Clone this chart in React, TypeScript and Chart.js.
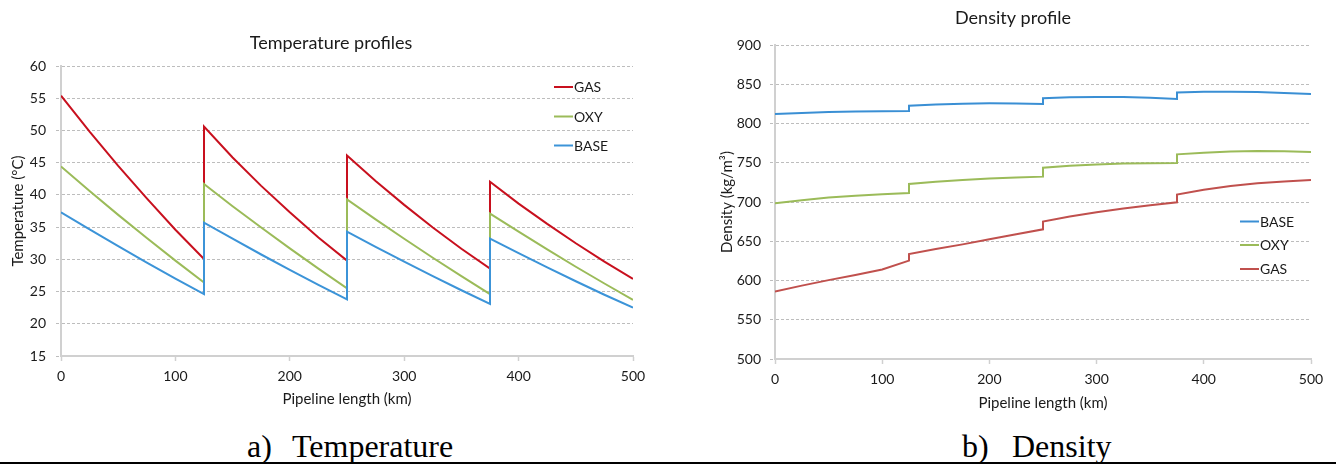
import React, { useEffect, useRef } from 'react';
import { Chart, registerables } from 'chart.js';

Chart.register(...registerables);

// ---------------- data ----------------
const KM = [
  0, 25, 50, 75, 100, 125,
  125, 150, 175, 200, 225, 250,
  250, 275, 300, 325, 350, 375,
  375, 400, 425, 450, 475, 500,
];

const TEMP_GAS = [
  55.4, 49.8, 44.5, 39.45, 34.6, 30.05,
  50.6, 45.8, 41.4, 37.3, 33.4, 29.8,
  46.1, 42.15, 38.45, 34.95, 31.65, 28.55,
  42.05, 38.65, 35.5, 32.5, 29.65, 26.95,
];
const TEMP_OXY = [
  44.4, 40.6, 36.9, 33.3, 29.8, 26.4,
  41.7, 38.25, 34.95, 31.7, 28.55, 25.5,
  39.3, 36.2, 33.2, 30.25, 27.4, 24.6,
  37.1, 34.3, 31.55, 28.85, 26.25, 23.7,
];
const TEMP_BASE = [
  37.3, 34.65, 32.05, 29.5, 27.0, 24.6,
  35.7, 33.2, 30.75, 28.35, 26.05, 23.8,
  34.3, 31.95, 29.65, 27.4, 25.2, 23.1,
  33.2, 30.95, 28.75, 26.6, 24.5, 22.5,
];

const DENS_BASE = [
  812, 813.5, 814.6, 815.3, 815.7, 816,
  822.7, 824.2, 825.2, 825.7, 825.5, 824.8,
  832.1, 833.3, 833.9, 833.8, 832.8, 831.3,
  839.6, 840.4, 840.6, 840.0, 839.0, 837.6,
];
const DENS_OXY = [
  698.3, 702.3, 705.7, 708.0, 710.0, 711.5,
  722.9, 725.8, 728.0, 729.8, 731.2, 732.3,
  743.7, 746.2, 747.9, 748.9, 749.4, 749.7,
  760.7, 762.8, 764.2, 764.9, 764.6, 763.7,
];
const DENS_GAS = [
  585.8, 593.5, 600.5, 607.0, 614.0, 625.3,
  633.8, 640.0, 646.0, 652.5, 659.0, 665.2,
  675.0, 681.5, 687.0, 691.8, 696.0, 699.6,
  709.5, 715.5, 720.3, 723.8, 726.2, 728.0,
];

const X_RANGE = [0, 500, 100];
const TEMP_RANGE = [15, 60, 5];
const DENS_RANGE = [500, 900, 50];

const TEMP_LEGEND = ['GAS', 'OXY', 'BASE'];
const DENS_LEGEND = ['BASE', 'OXY', 'GAS'];

// ---------------- styles ----------------
const FONT = 'Lato, "Open Sans", sans-serif';
const TEXT = '#1a1a1a';
const GRID = '#bdbdbd';
const AXIS = '#d0d0d0';

const COLORS_T: Record<string, string> = { GAS: '#c8101e', OXY: '#9bbb59', BASE: '#3c94d8' };
const COLORS_D: Record<string, string> = { GAS: '#c0504d', OXY: '#9bbb59', BASE: '#3a8fd4' };

const overlayPlugin = {
  id: 'overlay',
  afterDraw(chart: any, _args: any, opts: any) {
    const ctx = chart.ctx;
    ctx.save();
    ctx.fillStyle = TEXT;
    ctx.textAlign = 'center';
    ctx.textBaseline = 'middle';
    ctx.font = `${opts.titleSize}px ${FONT}`;
    ctx.fillText(opts.title, opts.titleX, opts.titleY);
    ctx.font = `${opts.legendSize}px ${FONT}`;
    ctx.textAlign = 'left';
    opts.legend.forEach((it: any) => {
      ctx.strokeStyle = it.color;
      ctx.lineWidth = 2;
      ctx.beginPath();
      ctx.moveTo(opts.legendX, it.y);
      ctx.lineTo(opts.legendX + 19, it.y);
      ctx.stroke();
      ctx.fillStyle = TEXT;
      ctx.fillText(it.label, opts.legendX + 20, it.y + 0.5);
    });
    ctx.restore();
  },
};

function buildConfig(p: any) {
  const datasets = p.series.map((s: any) => ({
    label: s.label,
    data: KM.map((x, i) => ({ x, y: s.values[i] })),
    borderColor: s.color,
    borderWidth: 2,
    pointRadius: 0,
    tension: 0,
    fill: false,
    order: s.order,
  }));
  return {
    type: 'line',
    data: { datasets },
    plugins: [overlayPlugin],
    options: {
      animation: false,
      responsive: false,
      events: [],
      layout: { padding: { left: 0, right: p.padRight, top: p.padTop, bottom: 0 } },
      plugins: {
        legend: { display: false },
        title: { display: false },
        tooltip: { enabled: false },
        overlay: p.overlay,
      },
      scales: {
        x: {
          type: 'linear',
          min: X_RANGE[0],
          max: X_RANGE[1],
          afterFit: (s: any) => { s.height = p.xHeight; },
          ticks: { stepSize: X_RANGE[2], color: TEXT, padding: 7, font: { family: FONT, size: 14 }, maxRotation: 0 },
          grid: {
            drawOnChartArea: false,
            drawTicks: true,
            tickLength: 5,
            tickColor: AXIS,
            tickWidth: 1.5,
            tickBorderDash: [],
          },
          border: { display: true, color: AXIS, width: 2 },
          title: {
            display: true,
            text: 'Pipeline length (km)',
            color: TEXT,
            font: { family: FONT, size: 15 },
            padding: { top: 0, bottom: p.xTitlePad },
          },
        },
        y: {
          type: 'linear',
          min: p.yRange[0],
          max: p.yRange[1],
          afterFit: (s: any) => { s.width = p.yWidth; },
          ticks: { stepSize: p.yRange[2], color: TEXT, padding: p.yTickPad, font: { family: FONT, size: 14 } },
          grid: {
            color: GRID,
            lineWidth: 1,
            drawTicks: true,
            tickLength: 5,
            tickColor: GRID,
            tickBorderDash: [3, 2],
          },
          border: { display: true, color: AXIS, width: 2, dash: [3, 2] },
          title: {
            display: true,
            text: p.yTitle,
            color: TEXT,
            font: { family: FONT, size: 15 },
            padding: { top: p.yTitlePad, bottom: 0 },
          },
        },
      },
    },
  };
}

function ChartBox(props: { left: number; top: number; width: number; height: number; params: any }) {
  const ref = useRef<HTMLCanvasElement | null>(null);
  useEffect(() => {
    if (!ref.current) return;
    const chart = new Chart(ref.current, buildConfig(props.params) as any);
    return () => chart.destroy();
  }, []);
  return (
    <div style={{ position: 'absolute', left: props.left, top: props.top, width: props.width, height: props.height }}>
      <canvas ref={ref} width={props.width} height={props.height} style={{ width: props.width, height: props.height, display: 'block' }} />
    </div>
  );
}

const tempParams = {
  padRight: 35,
  padTop: 66,
  xHeight: 64,
  yWidth: 61,
  yTickPad: 10,
  xTitlePad: 12,
  yTitlePad: 9,
  yRange: TEMP_RANGE,
  yTitle: 'Temperature (°C)',
  series: [
    { label: 'GAS', values: TEMP_GAS, color: COLORS_T.GAS, order: 3 },
    { label: 'OXY', values: TEMP_OXY, color: COLORS_T.OXY, order: 2 },
    { label: 'BASE', values: TEMP_BASE, color: COLORS_T.BASE, order: 1 },
  ],
  overlay: {
    title: 'Temperature profiles',
    titleX: 331,
    titleY: 43,
    titleSize: 18,
    legendSize: 14,
    legendX: 554,
    legend: TEMP_LEGEND.map((l, i) => ({ label: l, color: COLORS_T[l], y: [87, 116.5, 145.5][i] })),
  },
};

const densParams = {
  padRight: 25,
  padTop: 45,
  xHeight: 61,
  yWidth: 107,
  yTickPad: 9,
  xTitlePad: 8,
  yTitlePad: 50,
  yRange: DENS_RANGE,
  yTitle: 'Density (kg/m³)',
  series: [
    { label: 'BASE', values: DENS_BASE, color: COLORS_D.BASE, order: 1 },
    { label: 'OXY', values: DENS_OXY, color: COLORS_D.OXY, order: 2 },
    { label: 'GAS', values: DENS_GAS, color: COLORS_D.GAS, order: 3 },
  ],
  overlay: {
    title: 'Density profile',
    titleX: 1013 - 668,
    titleY: 18,
    titleSize: 18,
    legendSize: 14,
    legendX: 1240 - 668,
    legend: DENS_LEGEND.map((l, i) => ({ label: l, color: COLORS_D[l], y: [221.5, 245, 269][i] })),
  },
};

const captionStyle: React.CSSProperties = {
  position: 'absolute',
  top: 426,
  fontFamily: '"Liberation Serif", "Times New Roman", serif',
  fontSize: 32,
  lineHeight: '40px',
  color: '#000',
  whiteSpace: 'pre',
};

export default function App() {
  return (
    <div style={{ position: 'fixed', left: 0, top: 0, width: 1336, height: 466, background: '#fff', overflow: 'hidden' }}>
      <ChartBox left={0} top={0} width={668} height={420} params={tempParams} />
      <ChartBox left={668} top={0} width={668} height={420} params={densParams} />
      <div style={{ ...captionStyle, left: 247 }}>a)</div>
      <div style={{ ...captionStyle, left: 292 }}>Temperature</div>
      <div style={{ ...captionStyle, left: 962 }}>b)</div>
      <div style={{ ...captionStyle, left: 1012 }}>Density</div>
      <div style={{ position: 'absolute', left: 0, top: 462, width: 1336, height: 2, background: '#000' }} />
    </div>
  );
}
